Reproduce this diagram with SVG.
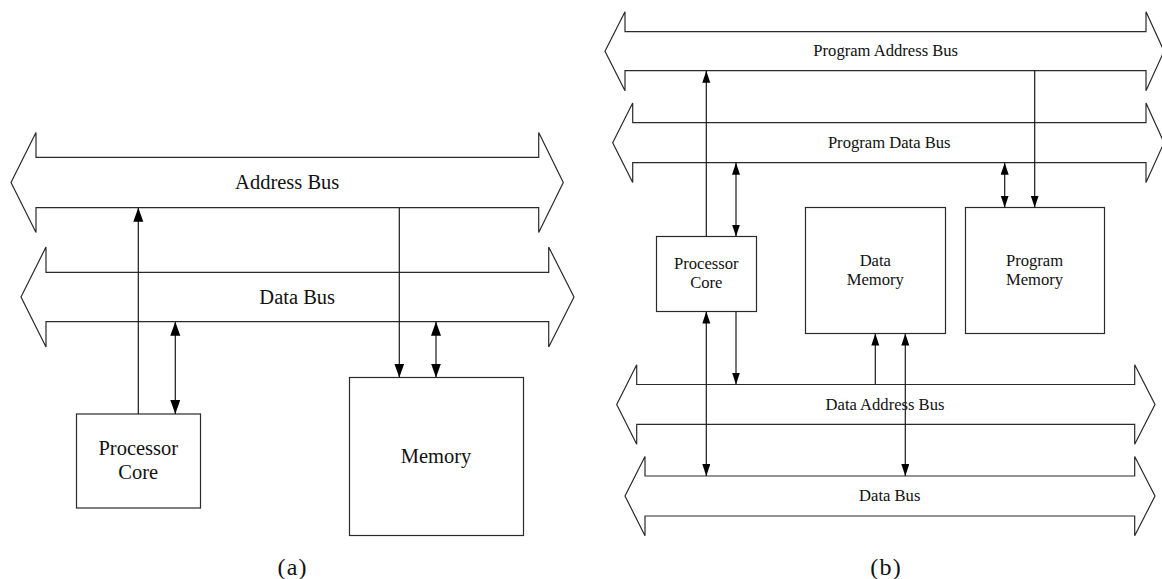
<svg xmlns="http://www.w3.org/2000/svg" width="1162" height="579" viewBox="0 0 1162 579">
<style>
.bus{fill:#fff;stroke:#2a2a2a;stroke-width:1.2}
.box{fill:#fff;stroke:#2a2a2a;stroke-width:1.2}
.ln{fill:none;stroke:#1a1a1a;stroke-width:1.2}
.ta{font-family:"Liberation Serif","Times New Roman",serif;font-size:20.5px;fill:#111;text-anchor:middle}
.tb{font-family:"Liberation Serif","Times New Roman",serif;font-size:16.6px;fill:#111;text-anchor:middle}
.cap{font-family:"Liberation Serif","Times New Roman",serif;font-size:24px;letter-spacing:1.2px;fill:#111;text-anchor:middle}
</style>
<defs>
<marker id="ahA" markerUnits="userSpaceOnUse" markerWidth="15" markerHeight="11" refX="14" refY="5" orient="auto-start-reverse" viewBox="0 0 15 11"><path d="M0,0 L14,5 L0,10 Z" fill="#000"/></marker>
<marker id="ahB" markerUnits="userSpaceOnUse" markerWidth="13" markerHeight="9" refX="12" refY="4" orient="auto-start-reverse" viewBox="0 0 13 9"><path d="M0,0 L12,4 L0,8 Z" fill="#000"/></marker>
</defs>

<!-- (a) -->
<g id="a-address-bus">
<path class="bus" d="M11,182.5 L36,132.5 L36,157.3 L538.7,157.3 L538.7,132.5 L563.3,182.5 L538.7,232.5 L538.7,207.7 L36,207.7 L36,232.5 Z"/>
<text class="ta" x="287.2" y="189">Address Bus</text>
</g>
<g id="a-data-bus">
<path class="bus" d="M21,297 L46,247 L46,272.3 L548.7,272.3 L548.7,247 L574,297 L548.7,347 L548.7,321.7 L46,321.7 L46,347 Z"/>
<text class="ta" x="297.2" y="303.5">Data Bus</text>
</g>
<g id="a-processor">
<rect class="box" x="76.5" y="414" width="124" height="94"/>
<text class="ta" x="138.3" y="455">Processor</text>
<text class="ta" x="138.3" y="479.3">Core</text>
</g>
<g id="a-memory">
<rect class="box" x="349.5" y="377.5" width="174" height="158"/>
<text class="ta" x="436" y="463.3">Memory</text>
</g>
<g id="a-connectors">
<line class="ln" x1="138.3" y1="414" x2="138.3" y2="207.7" marker-end="url(#ahA)"/>
<line class="ln" x1="175.3" y1="321.7" x2="175.3" y2="414" marker-start="url(#ahA)" marker-end="url(#ahA)"/>
<line class="ln" x1="399.3" y1="207.7" x2="399.3" y2="377.5" marker-end="url(#ahA)"/>
<line class="ln" x1="436" y1="321.7" x2="436" y2="377.5" marker-start="url(#ahA)" marker-end="url(#ahA)"/>
</g>
<text class="cap" x="292.6" y="574.5">(a)</text>

<!-- (b) -->
<g id="b-program-address-bus">
<path class="bus" d="M605,51.2 L625,11.7 L625,31.7 L1146,31.7 L1146,11.7 L1164,51.2 L1146,90.7 L1146,70.7 L625,70.7 L625,90.7 Z"/>
<text class="tb" x="885.7" y="56">Program Address Bus</text>
</g>
<g id="b-program-data-bus">
<path class="bus" d="M612.7,142.7 L632.7,103 L632.7,122.7 L1146,122.7 L1146,103 L1164,142.7 L1146,182.4 L1146,162.7 L632.7,162.7 L632.7,182.4 Z"/>
<text class="tb" x="889.2" y="147.7">Program Data Bus</text>
</g>
<g id="b-data-address-bus">
<path class="bus" d="M616.7,404.5 L636.7,364.8 L636.7,384.5 L1134.7,384.5 L1134.7,364.8 L1155,404.5 L1134.7,444.2 L1134.7,424.3 L636.7,424.3 L636.7,444.2 Z"/>
<text class="tb" x="885" y="410">Data Address Bus</text>
</g>
<g id="b-data-bus">
<path class="bus" d="M625,496 L645,456.5 L645,476 L1134.7,476 L1134.7,456.5 L1155,496 L1134.7,535.7 L1134.7,516 L645,516 L645,535.7 Z"/>
<text class="tb" x="889.7" y="500.7">Data Bus</text>
</g>
<g id="b-processor">
<rect class="box" x="656.5" y="236.5" width="100" height="75"/>
<text class="tb" x="706.3" y="269">Processor</text>
<text class="tb" x="706.3" y="288.3">Core</text>
</g>
<g id="b-data-memory">
<rect class="box" x="805.5" y="207.5" width="140" height="126"/>
<text class="tb" x="875.3" y="265.7">Data</text>
<text class="tb" x="875.3" y="285">Memory</text>
</g>
<g id="b-program-memory">
<rect class="box" x="965.5" y="207.5" width="139" height="126"/>
<text class="tb" x="1034.5" y="265.7">Program</text>
<text class="tb" x="1034.5" y="285">Memory</text>
</g>
<g id="b-connectors">
<line class="ln" x1="706.3" y1="236.5" x2="706.3" y2="70.7" marker-end="url(#ahB)"/>
<line class="ln" x1="736" y1="162.7" x2="736" y2="236.5" marker-start="url(#ahB)" marker-end="url(#ahB)"/>
<line class="ln" x1="1034.7" y1="70.7" x2="1034.7" y2="207.5" marker-end="url(#ahB)"/>
<line class="ln" x1="1004.7" y1="162.7" x2="1004.7" y2="207.5" marker-start="url(#ahB)" marker-end="url(#ahB)"/>
<line class="ln" x1="706.3" y1="311.5" x2="706.3" y2="476" marker-start="url(#ahB)" marker-end="url(#ahB)"/>
<line class="ln" x1="736" y1="311.5" x2="736" y2="384.5" marker-end="url(#ahB)"/>
<line class="ln" x1="875.3" y1="384.5" x2="875.3" y2="333.5" marker-end="url(#ahB)"/>
<line class="ln" x1="905.3" y1="333.5" x2="905.3" y2="476" marker-start="url(#ahB)" marker-end="url(#ahB)"/>
</g>
<text class="cap" x="886.1" y="574.5">(b)</text>
</svg>
